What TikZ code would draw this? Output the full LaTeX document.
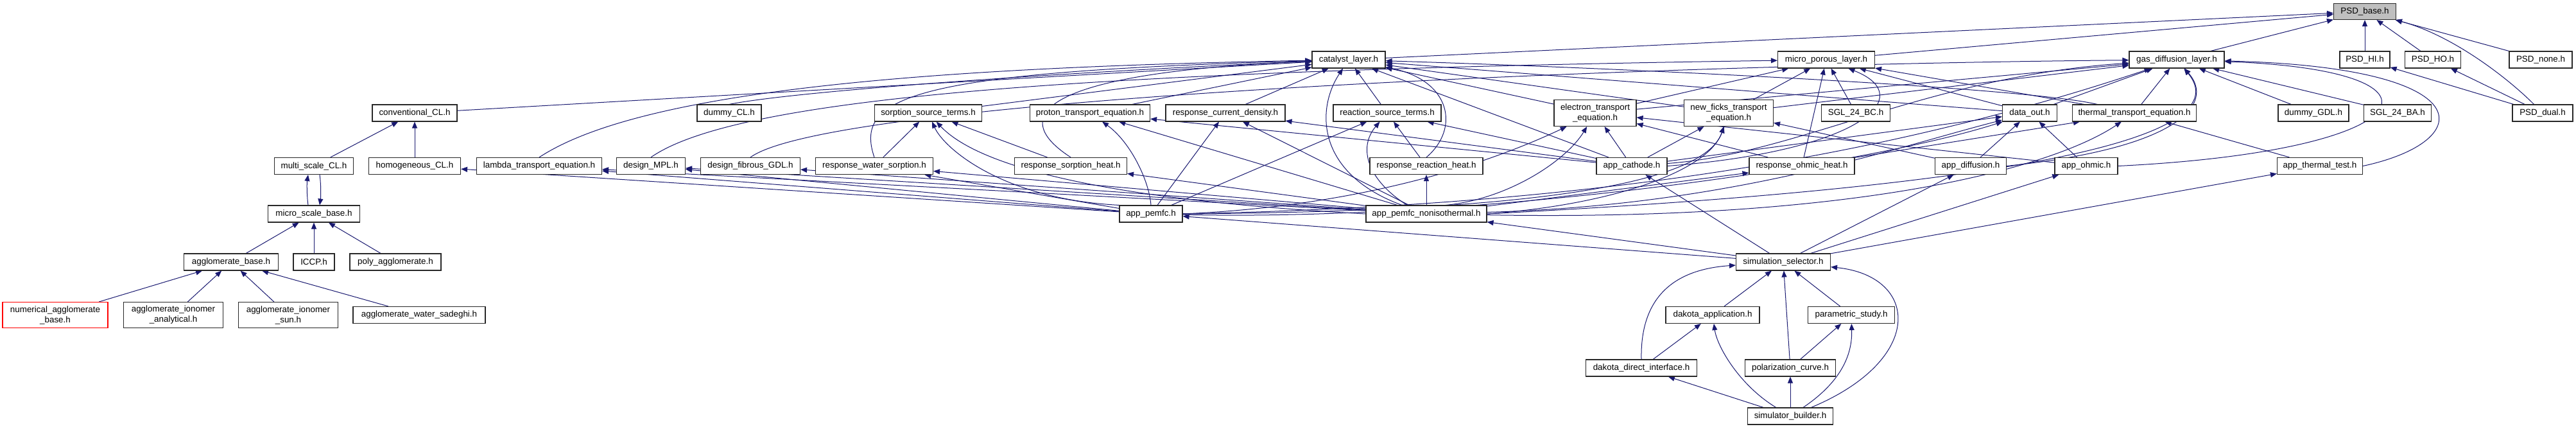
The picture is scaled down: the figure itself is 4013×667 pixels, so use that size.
\documentclass[tikz,border=0pt]{standalone}
\usepackage{fontspec}
\setmainfont{Liberation Sans}
\usetikzlibrary{arrows.meta, positioning, backgrounds}
\definecolor{edgenavy}{RGB}{25, 25, 112}
\definecolor{rootgrey}{RGB}{191, 191, 191}
\definecolor{boxgrey}{RGB}{40, 40, 40}
\tikzset{
  >=Triangle,
  hfile/.style={draw=boxgrey, fill=white, line width=1.1pt, inner sep=0pt, minimum height=26pt, align=center, font=\fontsize{13.4}{16}\selectfont},
  hfiletwo/.style={hfile, minimum height=41pt},
  incarrow/.style={-{Triangle[length=10pt, width=8pt]}, line width=1pt, edgenavy}
}

\begin{document}
\begin{tikzpicture}[x=1pt, y=-1pt]
    \useasboundingbox (0,0) rectangle (4013,667);

    \node[hfile, fill=rootgrey, minimum width=97pt, minimum height=25pt] (psdbase) at (3684,18) {PSD\_base.h};

    \node[hfile, minimum width=114pt] (cl) at (2101,93) {catalyst\_layer.h};
    \node[hfile, minimum width=151pt] (mpl) at (2845,93) {micro\_porous\_layer.h};
    \node[hfile, minimum width=148pt] (gdl) at (3391,93) {gas\_diffusion\_layer.h};
    \node[hfile, minimum width=78pt] (psdhi) at (3684,93) {PSD\_HI.h};
    \node[hfile, minimum width=87pt] (psdho) at (3790,93) {PSD\_HO.h};
    \node[hfile, minimum width=98pt] (psdnone) at (3958,93) {PSD\_none.h};

    \node[hfile, minimum width=132pt] (convcl) at (646,176) {conventional\_CL.h};
    \node[hfile, minimum width=100pt] (dummycl) at (1136,176) {dummy\_CL.h};
    \node[hfile, minimum width=167pt] (sorpst) at (1446,176) {sorption\_source\_terms.h};
    \node[hfile, minimum width=187pt] (protte) at (1698,176) {proton\_transport\_equation.h};
    \node[hfile, minimum width=186pt] (respcd) at (1909,176) {response\_current\_density.h};
    \node[hfile, minimum width=168pt] (reacst) at (2161,176) {reaction\_source\_terms.h};
    \node[hfiletwo, minimum width=128pt] (electe) at (2485,176) {electron\_transport\\\_equation.h};
    \node[hfiletwo, minimum width=139pt] (ficks) at (2693,176) {new\_ficks\_transport\\\_equation.h};
    \node[hfile, minimum width=107pt] (sglbc) at (2891,176) {SGL\_24\_BC.h};
    \node[hfile, minimum width=85pt] (dataout) at (3162,176) {data\_out.h};
    \node[hfile, minimum width=193pt] (thermte) at (3325,176) {thermal\_transport\_equation.h};
    \node[hfile, minimum width=110pt] (dummygdl) at (3604,176) {dummy\_GDL.h};
    \node[hfile, minimum width=105pt] (sglba) at (3735,176) {SGL\_24\_BA.h};
    \node[hfile, minimum width=94pt] (psddual) at (3961,176) {PSD\_dual.h};

    \node[hfile, minimum width=123pt] (mscl) at (489,258.5) {multi\_scale\_CL.h};
    \node[hfile, minimum width=143pt] (homcl) at (646,258.5) {homogeneous\_CL.h};
    \node[hfile, minimum width=195pt] (lambdate) at (840,258.5) {lambda\_transport\_equation.h};
    \node[hfile, minimum width=107pt] (dmpl) at (1014,258.5) {design\_MPL.h};
    \node[hfile, minimum width=155pt] (dfgdl) at (1169,258.5) {design\_fibrous\_GDL.h};
    \node[hfile, minimum width=183pt] (respws) at (1362,258.5) {response\_water\_sorption.h};
    \node[hfile, minimum width=175pt] (respsh) at (1668,258.5) {response\_sorption\_heat.h};
    \node[hfile, minimum width=176pt] (resprh) at (2222,258.5) {response\_reaction\_heat.h};
    \node[hfile, minimum width=110pt] (appcat) at (2542,258.5) {app\_cathode.h};
    \node[hfile, minimum width=164pt] (respoh) at (2807,258.5) {response\_ohmic\_heat.h};
    \node[hfile, minimum width=111pt] (appdiff) at (3070,258.5) {app\_diffusion.h};
    \node[hfile, minimum width=98pt] (appohm) at (3250,258.5) {app\_ohmic.h};
    \node[hfile, minimum width=133pt] (appthm) at (3614,258.5) {app\_thermal\_test.h};

    \node[hfile, minimum width=143pt] (msbase) at (489,333) {micro\_scale\_base.h};
    \node[hfile, minimum width=98pt] (apppemfc) at (1793,333) {app\_pemfc.h};
    \node[hfile, minimum width=188pt] (appnoniso) at (2222,333) {app\_pemfc\_nonisothermal.h};

    \node[hfile, minimum width=147pt] (aggbase) at (360,408) {agglomerate\_base.h};
    \node[hfile, minimum width=64pt] (iccp) at (489,408) {ICCP.h};
    \node[hfile, minimum width=142pt] (polyagg) at (616,408) {poly\_agglomerate.h};
    \node[hfile, minimum width=147pt] (simsel) at (2778,408) {simulation\_selector.h};

    \node[hfile, draw=red, minimum width=164pt, minimum height=40pt] (numagg) at (86,490.5) {numerical\_agglomerate\\\_base.h};
    \node[hfile, minimum width=155pt, minimum height=40pt] (aggana) at (270,490.5) {agglomerate\_ionomer\\\_analytical.h};
    \node[hfile, minimum width=155pt, minimum height=40pt] (aggsun) at (449,490.5) {agglomerate\_ionomer\\\_sun.h};
    \node[hfile, minimum width=206pt] (aggsad) at (653,490.5) {agglomerate\_water\_sadeghi.h};
    \node[hfile, minimum width=146pt] (dakapp) at (2668,490.5) {dakota\_application.h};
    \node[hfile, minimum width=135pt] (parstudy) at (2884,490.5) {parametric\_study.h};

    \node[hfile, minimum width=173pt] (dakdir) at (2557,573) {dakota\_direct\_interface.h};
    \node[hfile, minimum width=141pt] (polcurve) at (2789,573) {polarization\_curve.h};
    \node[hfile, minimum width=133pt] (simbuild) at (2789,648) {simulator\_builder.h};

    \begin{scope}[on background layer]
    \draw[incarrow] (cl) -- (psdbase);
    \draw[incarrow] (mpl) -- (psdbase);
    \draw[incarrow] (gdl) -- (psdbase);
    \draw[incarrow] (psdhi) -- (psdbase);
    \draw[incarrow] (psdho) -- (psdbase);
    \draw[incarrow] (psdnone) -- (psdbase);
    \draw[incarrow] (psddual) .. controls (3905,120) and (3820,55) .. (psdbase);
    \draw[incarrow] (psddual) -- (psdhi);
    \draw[incarrow] (psddual) -- (psdho);

    \draw[incarrow] (mscl) -- (convcl);
    \draw[incarrow] (homcl) -- (convcl);
    \draw[incarrow] ([xshift=-9pt]msbase.north) .. controls (478,305) and (478,285) .. ([xshift=-9pt]mscl.south);
    \draw[incarrow] ([xshift=9pt]mscl.south) .. controls (500,285) and (500,305) .. ([xshift=9pt]msbase.north);
    \draw[incarrow] (aggbase) -- (msbase);
    \draw[incarrow] (iccp) -- (msbase);
    \draw[incarrow] (polyagg) -- (msbase);
    \draw[incarrow] (numagg) -- (aggbase);
    \draw[incarrow] (aggana) -- (aggbase);
    \draw[incarrow] (aggsun) -- (aggbase);
    \draw[incarrow] (aggsad) -- (aggbase);

    \draw[incarrow] (convcl) -- (cl);
    \draw[incarrow] (dummycl.north) .. controls (1250,140) and (1700,110) .. (cl);
    \draw[incarrow] (lambdate.north) .. controls (1000,140) and (1450,105) .. (cl);
    \draw[incarrow] (respws.north) .. controls (1330,150) and (1420,112) .. (cl);
    \draw[incarrow] (sorpst) -- (cl);
    \draw[incarrow] (respsh.north) .. controls (1560,175) and (1640,112) .. (cl);
    \draw[incarrow] (protte) -- (cl);
    \draw[incarrow] (respcd) -- (cl);
    \draw[incarrow] (reacst) -- (cl);
    \draw[incarrow] (resprh.north) .. controls (2275,200) and (2260,125) .. (cl);
    \draw[incarrow] (electe) -- (cl);
    \draw[incarrow] (ficks) -- (cl);
    \draw[incarrow] (appcat) -- (cl);
    \draw[incarrow] ([xshift=-38pt]appnoniso.north) .. controls (2050,270) and (2050,170) .. (cl);
    \draw[incarrow] (dataout) -- (cl);
    \draw[incarrow] (thermte) .. controls (3150,135) and (2500,105) .. (cl);

    \draw[incarrow] (dmpl.north) .. controls (1150,150) and (1700,110) .. (mpl);
    \draw[incarrow] (electe) -- (mpl);
    \draw[incarrow] (ficks) -- (mpl);
    \draw[incarrow] (respoh) -- (mpl);
    \draw[incarrow] (sglbc) -- (mpl);
    \draw[incarrow] (appcat.east) .. controls (2900,235) and (2990,150) .. (mpl);
    \draw[incarrow] (dataout) -- (mpl);
    \draw[incarrow] (thermte) -- (mpl);

    \draw[incarrow] (dfgdl.north) .. controls (1300,150) and (2600,100) .. (gdl);
    \draw[incarrow] (electe) -- (gdl);
    \draw[incarrow] (ficks) -- (gdl);
    \draw[incarrow] (dataout) -- (gdl);
    \draw[incarrow] (thermte) -- (gdl);
    \draw[incarrow] (dummygdl) -- (gdl);
    \draw[incarrow] (sglba) -- (gdl);
    \draw[incarrow] (appcat) .. controls (2800,240) and (3000,120) .. (gdl);
    \draw[incarrow] (appdiff.east) .. controls (3400,230) and (3450,160) .. (gdl);
    \draw[incarrow] (appohm.east) .. controls (3780,235) and (3840,110) .. (gdl);
    \draw[incarrow] (appthm.east) .. controls (3860,220) and (3870,105) .. (gdl);
    \draw[incarrow] (appnoniso.east) .. controls (3250,285) and (3480,200) .. (gdl);
    \draw[incarrow] (apppemfc.east) .. controls (2500,320) and (2950,240) .. (gdl);

    \draw[incarrow] (respws) -- (sorpst);
    \draw[incarrow] (respsh) -- (sorpst);
    \draw[incarrow] (apppemfc.north west) .. controls (1560,310) and (1470,230) .. (sorpst);
    \draw[incarrow] (appnoniso.west) .. controls (1700,310) and (1520,255) .. (sorpst);
    \draw[incarrow] (apppemfc.north) .. controls (1790,280) and (1760,220) .. (protte);
    \draw[incarrow] (appnoniso) -- (protte);
    \draw[incarrow] (appcat) -- (protte);
    \draw[incarrow] (apppemfc) -- (respcd);
    \draw[incarrow] (appnoniso) -- (respcd);
    \draw[incarrow] (appcat) -- (respcd);
    \draw[incarrow] (apppemfc) -- (reacst);
    \draw[incarrow] ([xshift=-30pt]appnoniso.north) .. controls (2130,280) and (2115,230) .. (reacst);
    \draw[incarrow] (resprh) -- (reacst);
    \draw[incarrow] (appcat) -- (reacst);
    \draw[incarrow] (appnoniso) -- (resprh);

    \draw[incarrow] (apppemfc.east) .. controls (2150,320) and (2350,240) .. (electe);
    \draw[incarrow] ([xshift=30pt]appnoniso.north) .. controls (2350,310) and (2440,250) .. (electe);
    \draw[incarrow] (appcat) -- (electe);
    \draw[incarrow] (appohm) -- (electe);
    \draw[incarrow] (respoh) -- (electe);
    \draw[incarrow] (appcat) -- (ficks);
    \draw[incarrow] (appnoniso.east) .. controls (2500,320) and (2660,270) .. (ficks);
    \draw[incarrow] (apppemfc.east) .. controls (2300,330) and (2650,300) .. (ficks);
    \draw[incarrow] (appdiff) -- (ficks);

    \draw[incarrow] (appcat) -- (dataout);
    \draw[incarrow] (appnoniso) .. controls (2700,320) and (2950,230) .. (dataout);
    \draw[incarrow] (apppemfc) .. controls (2300,345) and (2900,260) .. (dataout);
    \draw[incarrow] (appdiff) -- (dataout);
    \draw[incarrow] (appohm) -- (dataout);
    \draw[incarrow] (appnoniso) .. controls (2900,345) and (3200,260) .. (thermte);
    \draw[incarrow] (respoh) -- (thermte);
    \draw[incarrow] (appthm) -- (thermte);

    \draw[incarrow] (apppemfc) -- (respws);
    \draw[incarrow] (appnoniso) -- (respws);
    \draw[incarrow] (appnoniso) -- (respsh);
    \draw[incarrow] (apppemfc) -- (lambdate);
    \draw[incarrow] (appnoniso) -- (lambdate);
    \draw[incarrow] (apppemfc) -- (dmpl);
    \draw[incarrow] (appnoniso) -- (dmpl);
    \draw[incarrow] (appnoniso) -- (dfgdl);
    \draw[incarrow] (apppemfc) -- (homcl);
    \draw[incarrow] (appnoniso) -- (respoh);

    \draw[incarrow] (simsel) -- (apppemfc);
    \draw[incarrow] (simsel) -- (appnoniso);
    \draw[incarrow] (simsel) -- (appcat);
    \draw[incarrow] (simsel) -- (appdiff);
    \draw[incarrow] (simsel) -- (appohm);
    \draw[incarrow] (simsel) -- (appthm);

    \draw[incarrow] (dakapp) -- (simsel);
    \draw[incarrow] (dakdir) -- (dakapp);
    \draw[incarrow] (dakdir.north) .. controls (2555,470) and (2600,420) .. (simsel);
    \draw[incarrow] (parstudy) -- (simsel);
    \draw[incarrow] (polcurve) -- (simsel);
    \draw[incarrow] (polcurve) -- (parstudy);
    \draw[incarrow] (simbuild) -- (dakdir);
    \draw[incarrow] (simbuild) .. controls (2710,600) and (2675,540) .. (dakapp);
    \draw[incarrow] (simbuild) -- (polcurve);
    \draw[incarrow] (simbuild) .. controls (2860,600) and (2886,560) .. (parstudy);
    \draw[incarrow] (simbuild) .. controls (3000,560) and (2990,430) .. (simsel);
    \end{scope}
\end{tikzpicture}
\end{document}
